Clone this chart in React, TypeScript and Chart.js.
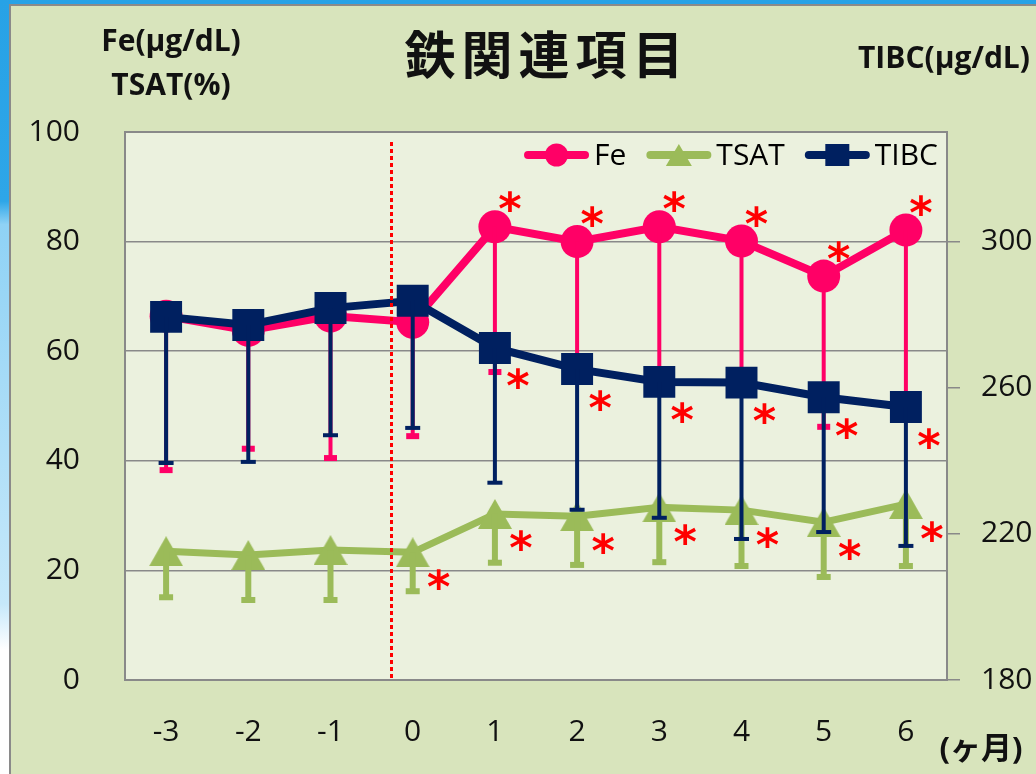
import React, { useEffect, useRef } from "react";
import { Chart, registerables } from "chart.js";
Chart.register(...registerables);

// ---------- data ----------
const MONTHS = ["-3", "-2", "-1", "0", "1", "2", "3", "4", "5", "6"];
const FE = [66.4, 63.8, 66.4, 65.3, 82.7, 80.0, 82.7, 80.1, 73.7, 82.1];
const FE_LOWER = [38.3, 42.2, 40.5, 44.5, 56.2, 57.0, 55.0, 54.0, 46.2, 50.0];
const TSAT = [23.5, 22.8, 23.7, 23.3, 30.3, 29.9, 31.5, 31.0, 28.8, 32.1];
const TSAT_LOWER = [15.1, 14.6, 14.6, 16.2, 21.4, 21.0, 21.5, 20.8, 18.8, 20.8];
const TIBC = [279.4, 277.2, 281.8, 283.8, 270.9, 265.1, 261.6, 261.4, 257.4, 254.7];
const TIBC_LOWER = [239.4, 239.7, 247.0, 249.0, 234.0, 226.6, 224.4, 218.6, 220.5, 216.7];
const FE_SIGNIFICANT = [0, 0, 0, 0, 1, 1, 1, 1, 1, 1];
const TSAT_SIGNIFICANT = [0, 0, 0, 1, 1, 1, 1, 1, 1, 1];
const TIBC_SIGNIFICANT = [0, 0, 0, 0, 1, 1, 1, 1, 1, 1];
const LEFT_TICKS = [0, 20, 40, 60, 80, 100];
const RIGHT_TICKS = [180, 220, 260, 300];
const LEFT_MIN = 0;
const LEFT_MAX = 100;
const RIGHT_MIN = 180;
const RIGHT_MAX = 330;
const SPLIT_POSITION = 2.73; // category-index position of the dotted start line

// ---------- styles ----------
const PINK = "#FF0066";
const GREEN = "#9BBB59";
const NAVY = "#002060";
const GRID = "#898989";
const FONT = '"Open Sans", "Noto Sans", sans-serif';

const ERROR_STYLE = [
  { lower: FE_LOWER, color: PINK, stem: 4, capW: 13, capH: 6 },
  { lower: TSAT_LOWER, color: GREEN, stem: 6, capW: 14, capH: 6 },
  { lower: TIBC_LOWER, color: NAVY, stem: 4, capW: 15, capH: 4 },
];
const STAR_STYLE = [
  { sig: FE_SIGNIFICANT, dx: 15, dy: -25 },
  { sig: TSAT_SIGNIFICANT, dx: 26, dy: 27 },
  { sig: TIBC_SIGNIFICANT, dx: 23, dy: 31 },
];

function makeTriangle(w: number, h: number, color: string) {
  const c = document.createElement("canvas");
  c.width = w;
  c.height = h;
  const g = c.getContext("2d")!;
  g.fillStyle = color;
  g.beginPath();
  g.moveTo(w / 2, 0);
  g.lineTo(w, h);
  g.lineTo(0, h);
  g.closePath();
  g.fill();
  return c;
}

const plotBgPlugin = {
  id: "plotBg",
  beforeDraw(chart: any) {
    const { ctx, chartArea: a } = chart;
    ctx.save();
    ctx.fillStyle = "#EBF1DE";
    ctx.fillRect(a.left, a.top, a.right - a.left, a.bottom - a.top);
    ctx.restore();
  },
  afterDraw(chart: any) {
    const { ctx, chartArea: a } = chart;
    ctx.save();
    ctx.strokeStyle = GRID;
    ctx.lineWidth = 2;
    ctx.strokeRect(a.left, a.top, a.right - a.left, a.bottom - a.top);
    ctx.restore();
  },
};

const errorBarPlugin = {
  id: "errorBars",
  afterDatasetDraw(chart: any, args: any) {
    const spec = ERROR_STYLE[args.index];
    if (!spec) return;
    const ds = chart.data.datasets[args.index];
    const x = chart.scales.x;
    const y = chart.scales[args.meta.yAxisID];
    const ctx = chart.ctx;
    ctx.save();
    ctx.strokeStyle = spec.color;
    ctx.fillStyle = spec.color;
    ctx.lineWidth = spec.stem;
    ds.data.forEach((v: number, i: number) => {
      const px = x.getPixelForValue(i);
      const y0 = y.getPixelForValue(v);
      const y1 = y.getPixelForValue(spec.lower[i]);
      ctx.beginPath();
      ctx.moveTo(px, y0);
      ctx.lineTo(px, y1);
      ctx.stroke();
      ctx.fillRect(px - spec.capW / 2, y1 - spec.capH / 2, spec.capW, spec.capH);
    });
    ctx.restore();
  },
};

const splitLinePlugin = {
  id: "splitLine",
  afterDatasetsDraw(chart: any) {
    const { ctx, chartArea: a } = chart;
    const px = Math.round(chart.scales.x.getPixelForValue(SPLIT_POSITION)) + 0.5;
    ctx.save();
    ctx.strokeStyle = "#FF0000";
    ctx.lineWidth = 3;
    ctx.setLineDash([4, 3]);
    ctx.beginPath();
    ctx.moveTo(px, a.top + 10);
    ctx.lineTo(px, a.bottom);
    ctx.stroke();
    ctx.restore();
  },
};

const starPlugin = {
  id: "stars",
  afterDraw(chart: any) {
    const ctx = chart.ctx;
    ctx.save();
    ctx.font = 'bold 100px "DejaVu Sans"';
    const m0 = ctx.measureText("*");
    const h0 = m0.actualBoundingBoxAscent + m0.actualBoundingBoxDescent;
    const size = (21 / h0) * 100;
    ctx.font = `bold ${size}px "DejaVu Sans"`;
    const m = ctx.measureText("*");
    const shift = (m.actualBoundingBoxDescent - m.actualBoundingBoxAscent) / 2;
    ctx.fillStyle = "#FF0000";
    ctx.textAlign = "center";
    ctx.textBaseline = "alphabetic";
    STAR_STYLE.forEach((st, di) => {
      const meta = chart.getDatasetMeta(di);
      const ds = chart.data.datasets[di];
      const y = chart.scales[meta.yAxisID];
      ds.data.forEach((v: number, i: number) => {
        if (!st.sig[i]) return;
        const px = chart.scales.x.getPixelForValue(i) + st.dx;
        const py = y.getPixelForValue(v) + st.dy;
        ctx.fillText("*", px, py - shift);
      });
    });
    ctx.restore();
  },
};

const legendPlugin = {
  id: "customLegend",
  afterDraw(chart: any) {
    const { ctx, chartArea: a } = chart;
    const items = chart.data.datasets.map((d: any) => ({ label: d.label, color: d.borderColor, kind: d.legendMarker }));
    ctx.save();
    ctx.font = `30px ${FONT}`;
    const lineLen = 65;
    const textGap = 5;
    const itemGap = 20;
    const widths = items.map((it: any) => lineLen + textGap + ctx.measureText(it.label).width);
    const total = widths.reduce((s: number, w: number) => s + w, 0) + itemGap * (items.length - 1);
    let x = a.right - 9 - total;
    const cy = a.top + 23;
    items.forEach((it: any, k: number) => {
      ctx.strokeStyle = it.color;
      ctx.fillStyle = it.color;
      ctx.lineWidth = 8;
      ctx.lineCap = "round";
      ctx.beginPath();
      ctx.moveTo(x + 4, cy);
      ctx.lineTo(x + lineLen - 4, cy);
      ctx.stroke();
      const mx = x + lineLen / 2;
      ctx.beginPath();
      if (it.kind === "circle") {
        ctx.arc(mx, cy, 11.5, 0, Math.PI * 2);
        ctx.fill();
      } else if (it.kind === "triangle") {
        ctx.moveTo(mx, cy - 11);
        ctx.lineTo(mx + 13, cy + 11);
        ctx.lineTo(mx - 13, cy + 11);
        ctx.closePath();
        ctx.fill();
      } else {
        ctx.fillRect(mx - 12, cy - 11, 24, 22);
      }
      ctx.fillStyle = "#000";
      ctx.textAlign = "left";
      ctx.textBaseline = "middle";
      ctx.fillText(it.label, x + lineLen + textGap, cy + 1);
      x += widths[k] + itemGap;
    });
    ctx.restore();
  },
};

export default function App() {
  const ref = useRef<HTMLCanvasElement>(null);
  useEffect(() => {
    const tri = makeTriangle(34, 30, GREEN);
    const tickFont = { family: FONT, size: 30 };
    const chart = new Chart(ref.current!, {
      type: "line",
      data: {
        labels: MONTHS,
        datasets: [
          {
            label: "Fe",
            data: FE,
            yAxisID: "y",
            borderColor: PINK,
            backgroundColor: PINK,
            borderWidth: 8,
            pointStyle: "circle",
            pointRadius: 16.5,
            pointBorderWidth: 0,
            pointBackgroundColor: PINK,
            tension: 0,
            order: 3,
            legendMarker: "circle",
          } as any,
          {
            label: "TSAT",
            data: TSAT,
            yAxisID: "y",
            borderColor: GREEN,
            backgroundColor: GREEN,
            borderWidth: 7,
            pointStyle: tri,
            pointRadius: 17,
            tension: 0,
            order: 2,
            legendMarker: "triangle",
          } as any,
          {
            label: "TIBC",
            data: TIBC,
            yAxisID: "y2",
            borderColor: NAVY,
            backgroundColor: NAVY,
            borderWidth: 8,
            pointStyle: "rect",
            pointRadius: 22.6,
            pointBorderWidth: 0,
            pointBackgroundColor: NAVY,
            tension: 0,
            order: 1,
            legendMarker: "rect",
          } as any,
        ],
      },
      options: {
        responsive: false,
        animation: false,
        devicePixelRatio: 1,
        layout: { padding: { top: 132, left: 0, right: 0, bottom: 0 } },
        plugins: { legend: { display: false }, title: { display: false }, tooltip: { enabled: false } },
        events: [],
        scales: {
          x: {
            type: "category",
            offset: true,
            grid: { display: false },
            border: { display: false },
            ticks: { font: tickFont, color: "#111", padding: 26, maxRotation: 0, autoSkip: false },
            afterFit: (s: any) => {
              s.height = 94;
            },
          },
          y: {
            position: "left",
            min: LEFT_MIN,
            max: LEFT_MAX,
            afterBuildTicks: (s: any) => {
              s.ticks = LEFT_TICKS.map((v) => ({ value: v }));
            },
            grid: { color: GRID, lineWidth: 1.5, drawTicks: false },
            border: { display: false },
            ticks: { font: tickFont, color: "#111", padding: 45 },
            afterFit: (s: any) => {
              s.width = 125;
            },
          },
          y2: {
            position: "right",
            min: RIGHT_MIN,
            max: RIGHT_MAX,
            afterBuildTicks: (s: any) => {
              s.ticks = RIGHT_TICKS.map((v) => ({ value: v }));
            },
            grid: { drawOnChartArea: false, drawTicks: true, tickLength: 13, color: GRID, lineWidth: 1.5 },
            border: { display: false },
            ticks: { font: tickFont, color: "#111", padding: 21 },
            afterFit: (s: any) => {
              s.width = 89;
            },
          },
        },
      } as any,
      plugins: [plotBgPlugin, errorBarPlugin, splitLinePlugin, starPlugin, legendPlugin],
    });
    return () => chart.destroy();
  }, []);

  const bold: React.CSSProperties = {
    position: "absolute",
    fontFamily: '"Open Sans", "Noto Sans CJK JP", sans-serif',
    fontWeight: 700,
    color: "#111",
    whiteSpace: "nowrap",
  };

  return (
    <div
      style={{
        position: "fixed",
        left: 0,
        top: 0,
        width: 1036,
        height: 774,
        overflow: "hidden",
        background:
          "linear-gradient(180deg, #27a2e6 0%, #2ea6e8 26%, #8fd2f5 29%, #c6e8fa 78%, #ffffff 84%, #ffffff 100%)",
      }}
    >
      <div
        style={{
          position: "absolute",
          left: 9,
          top: 4,
          width: 1040,
          height: 780,
          background: "#D8E4BC",
          border: "2px solid #8a8a8a",
          boxSizing: "border-box",
        }}
      />
      <canvas ref={ref} width={1036} height={774} style={{ position: "absolute", left: 0, top: 0, width: 1036, height: 774 }} />
      <div
        style={{
          ...bold,
          left: 71,
          top: 18,
          width: 200,
          textAlign: "center",
          fontSize: 30,
          lineHeight: "44px",
        }}
      >
        Fe(µg/dL)
        <br />
        TSAT(%)
      </div>
      <div style={{ ...bold, left: 858, top: 34, fontSize: 30, lineHeight: "46px" }}>TIBC(µg/dL)</div>
      <div
        style={{
          ...bold,
          fontFamily: '"Noto Sans CJK JP", sans-serif',
          left: 547,
          top: 27,
          transform: "translateX(-50%)",
          fontSize: 51,
          lineHeight: "50px",
          letterSpacing: 6,
        }}
      >
        鉄関連項目
      </div>
      <div
        style={{
          ...bold,
          left: 981,
          top: 747,
          transform: "translate(-50%, -50%)",
          fontSize: 31,
          lineHeight: "40px",
        }}
      >
        (ヶ月)
      </div>
    </div>
  );
}
